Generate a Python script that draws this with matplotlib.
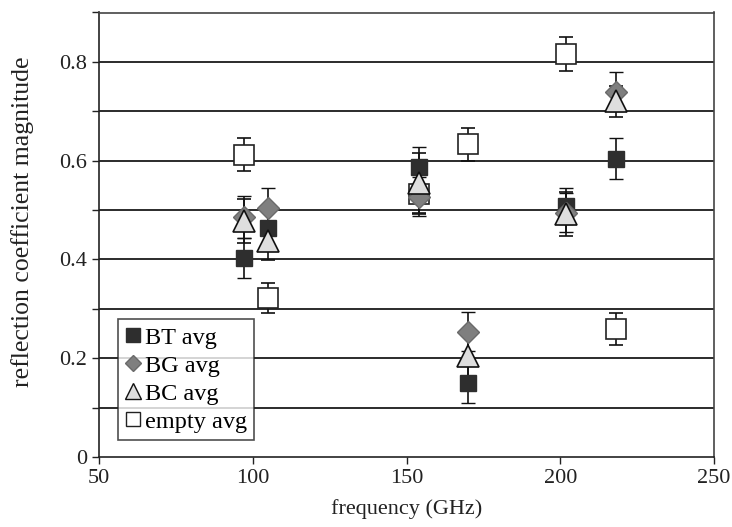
import matplotlib
matplotlib.use("Agg")
import matplotlib.pyplot as plt
from matplotlib.lines import Line2D
import numpy as np

plt.rcParams['font.family'] = ['Liberation Serif', 'DejaVu Serif']

freq_BT = [97, 105, 154, 170, 202, 218]
bt_avg = [0.403, 0.463, 0.588, 0.149, 0.508, 0.604]
bt_err = [0.040, 0.035, 0.040, 0.040, 0.036, 0.042]

freq_BG = [97, 105, 154, 170, 202, 218]
bg_avg = [0.486, 0.505, 0.527, 0.254, 0.495, 0.740]
bg_err = [0.042, 0.040, 0.040, 0.040, 0.040, 0.040]

freq_BC = [97, 105, 154, 170, 202, 218]
bc_avg = [0.478, 0.437, 0.555, 0.205, 0.492, 0.720]
bc_err = [0.045, 0.038, 0.060, 0.040, 0.045, 0.032]

freq_E = [97, 105, 154, 170, 202, 218]
empty_avg = [0.612, 0.322, 0.533, 0.633, 0.816, 0.259]
empty_err = [0.033, 0.031, 0.040, 0.033, 0.034, 0.032]

fig = plt.figure(figsize=(7.32, 5.27), dpi=100)
ax = fig.add_axes([99/732, 1 - 457/527, 615/732, (457 - 12.5)/527])

ax.set_xlim(50, 250)
ax.set_ylim(0, 0.9)
ax.set_xticks([50, 100, 150, 200, 250])
ax.set_yticks([0, 0.2, 0.4, 0.6, 0.8])
ax.set_yticklabels(['0', '0.2', '0.4', '0.6', '0.8'])
ax.set_yticks([0.1, 0.3, 0.5, 0.7, 0.9], minor=True)
for y in np.arange(0.1, 0.85, 0.1):
    ax.axhline(y, color='#1a1a1a', lw=1.3, zorder=1)

ax.tick_params(axis='both', which='both', direction='out', length=5, width=1,
               labelsize=16, colors='#222222')
ax.tick_params(axis='y', which='minor', length=5)
for s in ['left', 'bottom']:
    ax.spines[s].set_color('#222222')
    ax.spines[s].set_linewidth(1.2)
for s in ['top', 'right']:
    ax.spines[s].set_color('#444444')
    ax.spines[s].set_linewidth(1.2)

ekw = dict(ecolor='#111111', elinewidth=1.2, capsize=5, capthick=1.2, ls='none', zorder=3)
ax.errorbar(freq_E, empty_avg, yerr=empty_err, marker='s', ms=14, mfc='white',
            mec='#222222', mew=1.2, label='empty avg', **ekw)
ax.errorbar(freq_BT, bt_avg, yerr=bt_err, marker='s', ms=11, mfc='#2e2e2e',
            mec='#2e2e2e', mew=1, label='BT avg', **ekw)
ax.errorbar(freq_BG, bg_avg, yerr=bg_err, marker='D', ms=11, mfc='#7f7f7f',
            mec='#6a6a6a', mew=1, label='BG avg', **ekw)
ax.errorbar(freq_BC, bc_avg, yerr=bc_err, marker='^', ms=16, mfc='#dedede',
            mec='#111111', mew=1.2, label='BC avg', **ekw)

ax.set_xlabel('frequency (GHz)', fontsize=16, color='#222222')
ax.xaxis.set_label_coords(0.5, -0.094)
ax.set_ylabel('reflection coefficient magnitude', fontsize=18.5, color='#222222')
ax.yaxis.set_label_coords(-0.106, 0.53)

leg_handles = [
    Line2D([], [], marker='s', ms=10, mfc='#2e2e2e', mec='#2e2e2e', ls='none'),
    Line2D([], [], marker='D', ms=8, mfc='#7f7f7f', mec='#6a6a6a', ls='none'),
    Line2D([], [], marker='^', ms=11, mfc='#dedede', mec='#111111', ls='none'),
    Line2D([], [], marker='s', ms=10, mfc='white', mec='#222222', ls='none'),
]
leg = ax.legend(leg_handles, ['BT avg', 'BG avg', 'BC avg', 'empty avg'],
                loc='lower left', bbox_to_anchor=(0.031, 0.038), fontsize=17.5,
                frameon=True, fancybox=False, edgecolor='#222222',
                handlelength=0.6, handletextpad=0.2, borderpad=0.3,
                labelspacing=0.25, borderaxespad=0)
leg.get_frame().set_linewidth(1.2)
leg.set_zorder(5)

fig.savefig('out.png', dpi=100)
